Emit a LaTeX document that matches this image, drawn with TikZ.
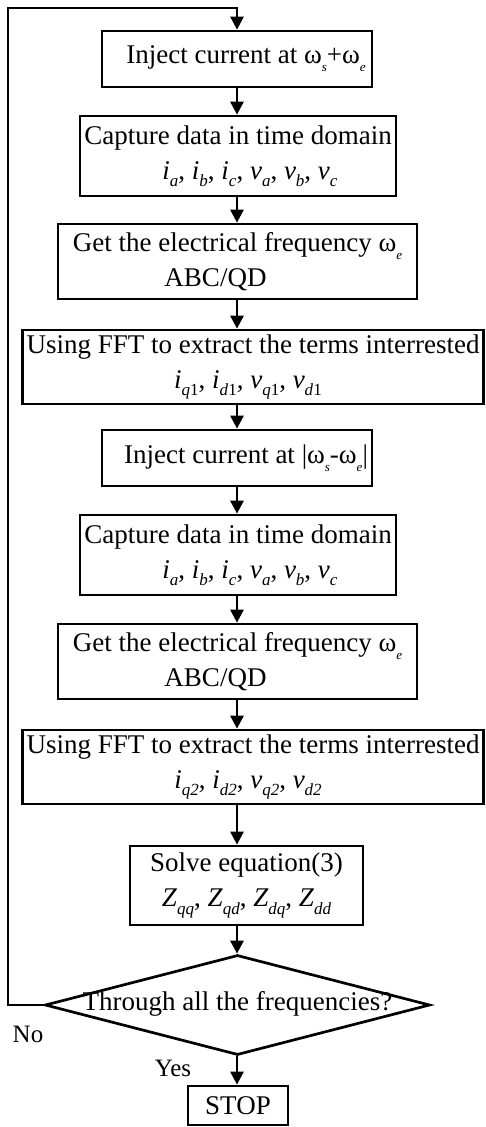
\documentclass[tikz,border=0pt]{standalone}
\usepackage{fontspec}
\setmainfont{Liberation Serif}
\usetikzlibrary{arrows.meta,shapes.geometric}
\newcommand{\sbi}[1]{\raisebox{-0.28em}{\fontsize{17}{17}\selectfont\itshape #1}}
\newcommand{\sbu}[2]{\raisebox{-0.28em}{\fontsize{17}{17}\selectfont\textit{#1}#2}}
\newcommand{\sbw}[1]{\raisebox{-0.3em}{\fontsize{13}{13}\selectfont\itshape #1}}
\newcommand{\vi}[1]{\textit{#1}}
\begin{document}
\begin{tikzpicture}[x=1pt,y=-1pt,
  box/.style={draw, line width=2.7pt, inner sep=0pt, align=center, font=\fontsize{27}{35}\selectfont},
  arr/.style={line width=2.7pt, -{Triangle[length=13pt,width=13pt]}},
  lbl/.style={inner sep=0pt, font=\fontsize{25}{25}\selectfont}]
\useasboundingbox (0,0) rectangle (485,1127);
\coordinate (c0) at (237,0);
\node[box, minimum width=270pt, minimum height=56pt] (b1) at (237,59)
  {\hspace*{18pt}Inject current at ω\sbw{s}+ω\sbw{e}};
\node[box, minimum width=316pt, minimum height=80pt] (b2) at (238,156)
  {Capture data in time domain\\ \hspace*{24pt}\vi{i}\sbi{a}, \vi{i}\sbi{b}, \vi{i}\sbi{c}, \vi{v}\sbi{a}, \vi{v}\sbi{b}, \vi{v}\sbi{c}};
\node[box, minimum width=359pt, minimum height=75pt] (b3) at (237.5,261.5)
  {Get the electrical frequency ω\sbw{e}\\ ABC/QD\hspace*{44pt}};
\node[box, minimum width=461pt, minimum height=74pt] (b4) at (253,367)
  {Using FFT to extract the terms interrested\\ \vi{i}\sbu{q}{1}, \vi{i}\sbu{d}{1}, \vi{v}\sbu{q}{1}, \vi{v}\sbu{d}{1}\hspace*{10pt}};
\node[box, minimum width=270pt, minimum height=56pt] (b5) at (237,458)
  {\hspace*{18pt}Inject current at |ω\sbw{s}-ω\sbw{e}|};
\node[box, minimum width=316pt, minimum height=80pt] (b6) at (238,555)
  {Capture data in time domain\\ \hspace*{24pt}\vi{i}\sbi{a}, \vi{i}\sbi{b}, \vi{i}\sbi{c}, \vi{v}\sbi{a}, \vi{v}\sbi{b}, \vi{v}\sbi{c}};
\node[box, minimum width=359pt, minimum height=75pt] (b7) at (237.5,661.5)
  {Get the electrical frequency ω\sbw{e}\\ ABC/QD\hspace*{44pt}};
\node[box, minimum width=461pt, minimum height=74pt] (b8) at (253,767)
  {Using FFT to extract the terms interrested\\ \vi{i}\sbi{q2}, \vi{i}\sbi{d2}, \vi{v}\sbi{q2}, \vi{v}\sbi{d2}\hspace*{10pt}};
\node[box, minimum width=233pt, minimum height=79pt] (b9) at (246.5,885.5)
  {Solve equation(3)\\ \vi{Z}\sbi{qq}, \vi{Z}\sbi{qd}, \vi{Z}\sbi{dq}, \vi{Z}\sbi{dd}};
\node[diamond, draw, line width=2.7pt, minimum width=385pt, minimum height=100pt, inner sep=0pt] (dec) at (237.5,1005) {};
\node[inner sep=0pt, font=\fontsize{27}{35}\selectfont] (dect) at (237.5,1004) {Through all the frequencies?};
\node[box, minimum width=100pt, minimum height=39pt] (stop) at (238,1105.5) {STOP};
\node[lbl] (no) at (28,1034) {No};
\node[lbl] (yes) at (173,1068) {Yes};
\coordinate (lpb) at (8,1005);
\coordinate (lpt) at (8,8);
\coordinate (lptr) at (237,8);
\draw[arr] (dec.west) -- (lpb) -- (lpt) -- (lptr) -- (b1.north -| c0);
\draw[arr] (b1.south -| c0) -- (b2.north -| c0);
\draw[arr] (b2.south -| c0) -- (b3.north -| c0);
\draw[arr] (b3.south -| c0) -- (b4.north -| c0);
\draw[arr] (b4.south -| c0) -- (b5.north -| c0);
\draw[arr] (b5.south -| c0) -- (b6.north -| c0);
\draw[arr] (b6.south -| c0) -- (b7.north -| c0);
\draw[arr] (b7.south -| c0) -- (b8.north -| c0);
\draw[arr] (b8.south -| c0) -- (b9.north -| c0);
\draw[arr] (b9.south -| c0) -- (dec.north -| c0);
\draw[arr] (dec.south -| c0) -- (stop.north -| c0);
\end{tikzpicture}
\end{document}
